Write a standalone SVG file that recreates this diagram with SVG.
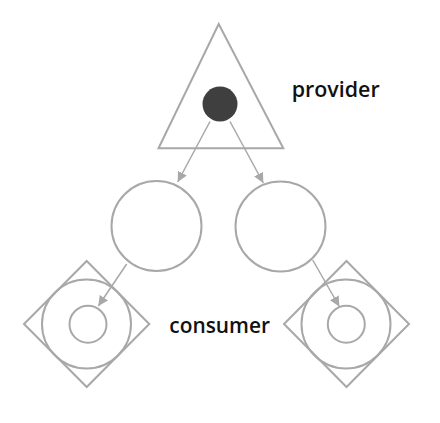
<svg xmlns="http://www.w3.org/2000/svg" width="440" height="423" viewBox="0 0 440 423">
<defs>
<style>
.s{fill:none;stroke:#a8a8a8;stroke-width:2}
.e{fill:none;stroke:#a8a8a8;stroke-width:1.5}
.t{font-family:"Open Sans","DejaVu Sans",sans-serif;font-weight:600;font-size:21px;fill:#111}
</style>
<marker id="ah" viewBox="0 0 10 10" refX="10" refY="5" markerWidth="10" markerHeight="10" markerUnits="userSpaceOnUse" orient="auto">
<path d="M0,0 L10,5 L0,10 z" fill="#a8a8a8"/>
</marker>
</defs>
<rect width="440" height="423" fill="#fff"/>
<g id="provider">
<polygon class="s" points="218.7,24 158.5,148.3 283.3,148.3"/>
<circle cx="220" cy="104" r="17.5" fill="#3f3f3f"/>
<text class="t" x="291.7" y="96.5" textLength="88" lengthAdjust="spacingAndGlyphs">provider</text>
</g>
<g id="middle-left"><circle class="s" cx="156.5" cy="226" r="45"/></g>
<g id="middle-right"><circle class="s" cx="280.5" cy="226.5" r="45"/></g>
<g id="consumer-left">
<polygon class="s" points="86.7,261 149.3,324 86.7,387 24,324"/>
<circle class="s" cx="86.5" cy="324" r="44.5"/>
<circle class="s" cx="88" cy="324.3" r="18.5"/>
</g>
<g id="consumer-right">
<polygon class="s" points="346.5,261 409,324 346.5,387 284,324"/>
<circle class="s" cx="346" cy="324" r="44.5"/>
<circle class="s" cx="346.3" cy="324.3" r="18.5"/>
</g>
<text class="t" x="169.3" y="333.3" textLength="100.7" lengthAdjust="spacingAndGlyphs">consumer</text>
<g id="connectors">
<line class="e" x1="210" y1="121.5" x2="177.7" y2="182" marker-end="url(#ah)"/>
<line class="e" x1="230" y1="121.5" x2="263.3" y2="183" marker-end="url(#ah)"/>
<line class="e" x1="126.7" y1="264" x2="98.3" y2="306" marker-end="url(#ah)"/>
<line class="e" x1="312.7" y1="260" x2="339.3" y2="306.5" marker-end="url(#ah)"/>
</g>
</svg>
